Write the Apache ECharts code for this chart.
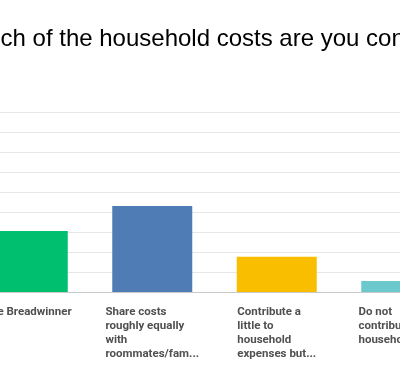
<!DOCTYPE html>
<html>
    <head>
        <meta charset="utf-8">
        <title>Household costs</title>
        <script src="https://cdn.jsdelivr.net/npm/echarts@6/dist/echarts.min.js"></script>
        <style>
            body { margin: 0; overflow: hidden; background: #fff; }
            /* chart is wider than the window and shifted left, like the cropped original */
            #main { position: absolute; left: -150px; top: 0; width: 700px; height: 375px; }
        </style>
    </head>
    <body>
        <div id="main"></div>

        <script type="text/javascript">
            var titleText = 'How much of the household costs are you contributing?';
            var categories = [
                'The Breadwinner',
                'Share costs\nroughly equally\nwith\nroommates/fam...',
                'Contribute a\nlittle to\nhousehold\nexpenses but...',
                'Do not\ncontribute to the\nhousehold'
            ];
            var values = [30.5, 43, 17.6, 5.5];
            var barColors = ['#00bf6f', '#507cb6', '#f9be00', '#6bc8cd'];

            var myChart = echarts.init(document.getElementById('main'));

            var barData = [];
            for (var i = 0; i < values.length; i++) {
                barData.push({ value: values[i], itemStyle: { color: barColors[i] } });
            }

            myChart.setOption({
                animation: false,
                title: {
                    text: titleText,
                    left: 62.5,
                    top: 27,
                    padding: 0,
                    textStyle: {
                        fontFamily: 'Liberation Sans',
                        fontSize: 24,
                        fontWeight: 'normal',
                        color: '#000'
                    }
                },
                grid: { left: 115.5, top: 112, width: 498, height: 180 },
                xAxis: {
                    type: 'category',
                    data: categories,
                    axisTick: { show: false },
                    axisLine: { lineStyle: { color: '#c9c9c9', width: 1 } },
                    axisLabel: {
                        interval: 0,
                        margin: 13,
                        align: 'center',
                        verticalAlign: 'top',
                        formatter: function (v) { return '{a|' + v + '}'; },
                        rich: {
                            a: {
                                align: 'left',
                                fontFamily: 'Roboto',
                                fontWeight: 'bold',
                                fontSize: 11.5,
                                lineHeight: 14,
                                color: '#505050'
                            }
                        }
                    }
                },
                yAxis: {
                    type: 'value',
                    min: 0,
                    max: 90,
                    interval: 10,
                    axisLabel: { show: false },
                    axisLine: { show: false },
                    axisTick: { show: false },
                    splitLine: { lineStyle: { color: '#e6e6e6' } }
                },
                series: [{
                    type: 'bar',
                    barWidth: 80,
                    data: barData
                }]
            });
        </script>
    </body>
</html>
